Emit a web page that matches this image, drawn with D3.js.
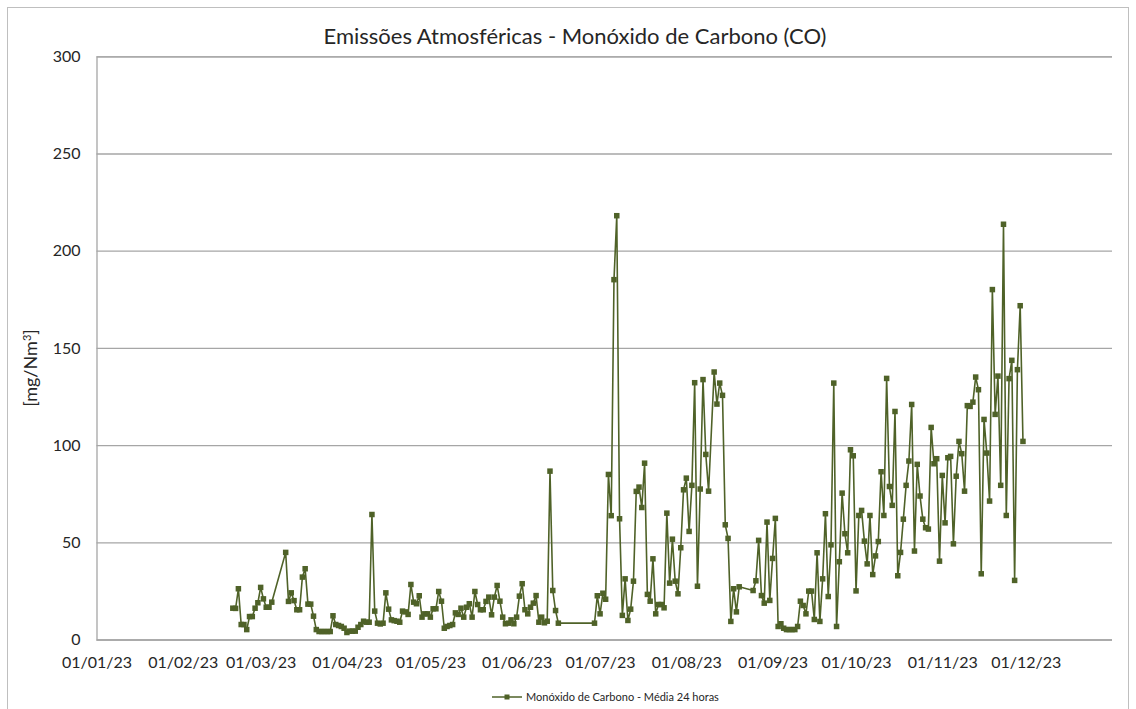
<!DOCTYPE html>
<html>
<head>
<meta charset="utf-8">
<script src="https://cdn.jsdelivr.net/npm/d3@7"></script>
<style>
	body { margin: 0; background: #fff; }
	text { font-family: Lato, "Open Sans", sans-serif; fill: #262626; }
</style>
</head>
<body>
<div id="chart"></div>
<script>
// daily averages, dd/mm/yy
let dates = [
	"19/02/23","20/02/23","21/02/23","22/02/23","23/02/23","24/02/23","25/02/23","26/02/23","27/02/23","28/02/23",
	"01/03/23","02/03/23","03/03/23","04/03/23","05/03/23","10/03/23","11/03/23","12/03/23","13/03/23","14/03/23","15/03/23","16/03/23","17/03/23","18/03/23","19/03/23","20/03/23","21/03/23","22/03/23","23/03/23","24/03/23","25/03/23","26/03/23","27/03/23","28/03/23","29/03/23","30/03/23","31/03/23",
	"01/04/23","02/04/23","03/04/23","04/04/23","05/04/23","06/04/23","07/04/23","08/04/23","09/04/23","10/04/23","11/04/23","12/04/23","13/04/23","14/04/23","15/04/23","16/04/23","17/04/23","18/04/23","19/04/23","20/04/23","21/04/23","22/04/23","23/04/23","24/04/23","25/04/23","26/04/23","27/04/23","28/04/23","29/04/23","30/04/23",
	"01/05/23","02/05/23","03/05/23","04/05/23","05/05/23","06/05/23","07/05/23","08/05/23","09/05/23","10/05/23","11/05/23","12/05/23","13/05/23","14/05/23","15/05/23","16/05/23","17/05/23","18/05/23","19/05/23","20/05/23","21/05/23","22/05/23","23/05/23","24/05/23","25/05/23","26/05/23","27/05/23","28/05/23","29/05/23","30/05/23","31/05/23",
	"01/06/23","02/06/23","03/06/23","04/06/23","05/06/23","06/06/23","07/06/23","08/06/23","09/06/23","10/06/23","11/06/23","12/06/23","13/06/23","14/06/23","15/06/23","16/06/23","29/06/23","30/06/23",
	"01/07/23","02/07/23","03/07/23","04/07/23","05/07/23","06/07/23","07/07/23","08/07/23","09/07/23","10/07/23","11/07/23","12/07/23","13/07/23","14/07/23","15/07/23","16/07/23","17/07/23","18/07/23","19/07/23","20/07/23","21/07/23","22/07/23","23/07/23","24/07/23","25/07/23","26/07/23","27/07/23","28/07/23","29/07/23","30/07/23","31/07/23",
	"01/08/23","02/08/23","03/08/23","04/08/23","05/08/23","06/08/23","07/08/23","08/08/23","09/08/23","11/08/23","12/08/23","13/08/23","14/08/23","15/08/23","16/08/23","17/08/23","18/08/23","19/08/23","20/08/23","25/08/23","26/08/23","27/08/23","28/08/23","29/08/23","30/08/23","31/08/23",
	"01/09/23","02/09/23","03/09/23","04/09/23","05/09/23","06/09/23","07/09/23","08/09/23","09/09/23","10/09/23","11/09/23","12/09/23","13/09/23","14/09/23","15/09/23","16/09/23","17/09/23","18/09/23","19/09/23","20/09/23","21/09/23","22/09/23","23/09/23","24/09/23","25/09/23","26/09/23","27/09/23","28/09/23","29/09/23","30/09/23",
	"01/10/23","02/10/23","03/10/23","04/10/23","05/10/23","06/10/23","07/10/23","08/10/23","09/10/23","10/10/23","11/10/23","12/10/23","13/10/23","14/10/23","15/10/23","16/10/23","17/10/23","18/10/23","19/10/23","20/10/23","21/10/23","22/10/23","23/10/23","24/10/23","25/10/23","26/10/23","27/10/23","28/10/23","29/10/23","30/10/23","31/10/23",
	"01/11/23","02/11/23","03/11/23","04/11/23","05/11/23","06/11/23","07/11/23","08/11/23","09/11/23","10/11/23","11/11/23","12/11/23","13/11/23","14/11/23","15/11/23","16/11/23","17/11/23","18/11/23","19/11/23","20/11/23","21/11/23","22/11/23","23/11/23","24/11/23","25/11/23","26/11/23","27/11/23","28/11/23","29/11/23","30/11/23"
];

let coValues = [
	16.1,16,26.1,7.7,7.7,5.1,11.8,11.8,16.1,18.9,
	26.8,20.9,16.6,16.6,19.2,44.8,19.6,24,20,15.3,15.3,32.1,36.4,18.2,18.2,12,5.1,4.1,4.1,4.1,4.1,4.1,12.2,7.7,7.2,6.7,5.8,
	3.6,4.3,4.3,4.3,6.3,7.7,9.4,8.9,8.9,64.3,14.6,8.4,8,8.4,24,15.6,10.1,9.7,9.4,8.9,14.6,14.2,12.9,28.3,19.2,18.4,22.5,11.5,13.2,13.2,
	11.5,15.8,15.8,24.7,19.7,5.8,6.7,7.2,7.7,13.7,12.9,16.1,11.5,16.6,18.4,11.5,24.7,18,15.3,15.3,19.6,21.8,12.7,21.8,27.8,19.7,11.5,8.1,8.4,10.1,8.1,
	11.5,22.3,28.7,15.3,13.2,16.6,18.7,22.6,8.9,11.5,8.6,9.4,86.6,25.2,14.9,8.4,8.4,22.5,
	13.2,23.8,20.7,84.9,63.7,185.1,218,62.1,12.4,31.2,9.8,15.6,30,76.2,78.4,67.9,90.7,23.2,19.7,41.5,13.2,18,18,16.3,65,29,51.6,30,23.5,47.2,77,
	83,55.6,79.3,132.1,27.4,77.4,133.7,95.2,76.3,137.6,121.1,131.9,125.6,59,52,9.3,26.1,14.2,27.1,25.2,30.2,51,22.6,18.7,60.4,20.1,
	41.7,62.3,6.7,8.1,5.8,5.1,5.1,5.1,5.1,6.7,19.7,17.5,13.2,24.9,24.9,10.3,44.6,9.3,31.2,64.7,22.1,48.7,131.9,6.7,40,75.3,54.4,44.6,97.6,94.5,
	25,63.8,66.4,50.6,38.9,63.8,33.4,43,50.4,86.3,63.8,134.3,78.7,69,117.3,32.8,44.8,61.9,79.3,91.8,120.9,45.5,90.1,73.8,61.9,57.5,56.8,109.1,90.4,93,40.3,
	84.4,60,93.5,94.2,49.2,84,101.9,95.6,76.3,120.3,119.9,122.1,135,128.5,33.8,113.2,95.9,71.2,180,115.8,135.5,79.3,213.6,63.8,134.2,143.6,30.4,138.8,171.7,101.9
];

let yTicks = [0, 50, 100, 150, 200, 250, 300];
let xTickLabels = ["01/01/23","01/02/23","01/03/23","01/04/23","01/05/23","01/06/23","01/07/23","01/08/23","01/09/23","01/10/23","01/11/23","01/12/23"];
let seriesName = "Monóxido de Carbono - Média 24 horas";

let width = 1136, height = 709;
let plot = {left: 96.5, right: 1112, top: 56.3, bottom: 639.5};
let lineColor = "#4f6228";

let parse = d3.timeParse("%d/%m/%y");
let data = dates.map((d, i) => ({date: parse(d), value: coValues[i]}));

let xScale = d3.scaleTime()
	.domain([parse("01/01/23"), parse("01/01/24")])
	.range([plot.left, plot.right]);
let yScale = d3.scaleLinear()
	.domain([0, 300])
	.range([plot.bottom, plot.top]);

let svg = d3.select("#chart").append("svg")
	.attr("width", width)
	.attr("height", height);

svg.append("rect")
	.attr("width", width).attr("height", height)
	.attr("fill", "#fff");

// outer chart frame
svg.append("rect")
	.attr("x", 7.5).attr("y", 7.5)
	.attr("width", 1121).attr("height", 720)
	.attr("fill", "none")
	.attr("stroke", "#bfbfbf");

// horizontal gridlines + y labels
let yAxis = d3.axisLeft(yScale)
	.tickValues(yTicks)
	.tickSize(-(plot.right - plot.left))
	.tickPadding(16);
let gy = svg.append("g")
	.attr("transform", `translate(${plot.left},0)`)
	.call(yAxis);
gy.select(".domain").attr("stroke", "#a6a6a6").attr("stroke-width", 1.3);
gy.selectAll(".tick line").attr("stroke", "#a6a6a6").attr("stroke-width", 1.3);
gy.selectAll(".tick text")
	.attr("font-size", 16)
	.attr("fill", "#262626");

// x labels, centred on the first of each month
let xAxis = d3.axisBottom(xScale)
	.tickValues(xTickLabels.map(parse))
	.tickFormat(d3.timeFormat("%d/%m/%y"))
	.tickSize(0)
	.tickPadding(17);
let gx = svg.append("g")
	.attr("transform", `translate(0,${plot.bottom})`)
	.call(xAxis);
gx.select(".domain").remove();
gx.selectAll(".tick text")
	.attr("font-size", 16)
	.attr("fill", "#262626");

let line = d3.line()
	.x(d => xScale(d.date))
	.y(d => yScale(d.value));

svg.append("path")
	.datum(data)
	.attr("d", line)
	.attr("fill", "none")
	.attr("stroke", lineColor)
	.attr("stroke-width", 1.6)
	.attr("stroke-linejoin", "round");

svg.append("g").selectAll("rect")
	.data(data)
	.join("rect")
	.attr("x", d => xScale(d.date) - 2.75)
	.attr("y", d => yScale(d.value) - 2.75)
	.attr("width", 5.5)
	.attr("height", 5.5)
	.attr("fill", lineColor);

svg.append("text")
	.text("Emissões Atmosféricas - Monóxido de Carbono (CO)")
	.attr("x", 575)
	.attr("y", 44)
	.attr("text-anchor", "middle")
	.attr("font-size", 22);

let yTitle = svg.append("text")
	.attr("transform", "translate(37,368) rotate(-90)")
	.attr("text-anchor", "middle")
	.attr("font-size", 18);
yTitle.append("tspan").text("[mg/Nm");
yTitle.append("tspan")
	.attr("baseline-shift", "super")
	.attr("font-size", 11)
	.text("3");
yTitle.append("tspan").text("]");

// legend
let legend = svg.append("g").attr("transform", "translate(492,697)");
legend.append("line")
	.attr("x1", 0).attr("x2", 30)
	.attr("stroke", lineColor).attr("stroke-width", 1.5);
legend.append("rect")
	.attr("x", 12.5).attr("y", -2.5)
	.attr("width", 5).attr("height", 5)
	.attr("fill", lineColor);
legend.append("text")
	.text(seriesName)
	.attr("x", 34)
	.attr("dy", "0.35em")
	.attr("font-size", 11)
	.attr("fill", "#404040");
</script>
</body>
</html>
